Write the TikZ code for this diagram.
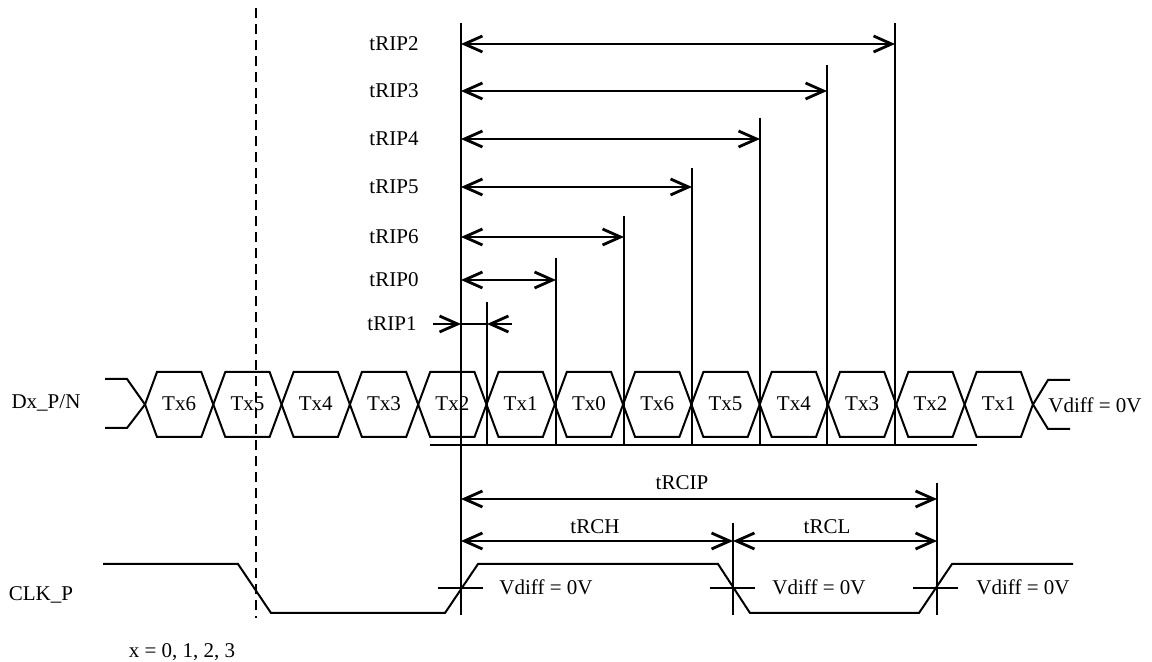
\documentclass[tikz,border=0pt]{standalone}
\usepackage{fontspec}
\setmainfont{Liberation Serif}
\usetikzlibrary{arrows.meta}
\tikzstyle{every node} = [font=\fontsize{10.5}{12}\selectfont, inner sep=0pt]
\tikzstyle{wave} = [line width=1pt]
\tikzstyle{guide} = [line width=0.8pt]
\tikzstyle{arrow} = [line width=1.4pt,<->,>={Straight Barb[length=9pt,width=8pt]}]

\begin{document}
\begin{tikzpicture}[x=0.5pt, y=-0.5pt]
\useasboundingbox (0,0) rectangle (1152,662);

% signal names
\node (dx) at (46,403) {Dx\_P/N};
\node (clk) at (41,595) {CLK\_P};
\node (lane) at (182,652) {x = 0, 1, 2, 3};

% data lane
\draw [wave] (105,379) -- (127,379) -- (145,404.5) -- (127,428) -- (105,428);
\foreach \lab [count=\i from 0] in {Tx6,Tx5,Tx4,Tx3,Tx2,Tx1,Tx0,Tx6,Tx5,Tx4,Tx3,Tx2,Tx1} {
  \draw [wave] ({145+68.3*\i},404.5) -- ({157+68.3*\i},372) -- ({133+68.3*(\i+1)},372) -- ({145+68.3*(\i+1)},404.5) -- ({133+68.3*(\i+1)},437) -- ({157+68.3*\i},437) -- cycle;
  \node (tx\i) at ({179.15+68.3*\i},404) {\lab};
}
\draw [wave] (1070,380) -- (1048,380) -- (1033,404.5) -- (1048,429) -- (1070,429);
\node (vd0) at (1095,405) {Vdiff = 0V};

% clock
\draw [wave] (103,564) -- (238,564) -- (271,613) -- (445,613) -- (478,564) -- (718,564) -- (750,613) -- (919,613) -- (952,564) -- (1073,564);
\draw [wave] (438,588) -- (483,588);
\draw [wave] (710,588) -- (755,588);
\draw [wave] (913,588) -- (958,588);
\node (vd1) at (546,587) {Vdiff = 0V};
\node (vd2) at (819,587) {Vdiff = 0V};
\node (vd3) at (1023,587) {Vdiff = 0V};

% sampling edge
\draw [line width=1pt, dash pattern=on 5pt off 3pt] (256,8) -- (256,618);

% reference edge and base line
\coordinate (ref) at (461,23);
\coordinate (refbot) at (461,615);
\draw [wave] (ref) -- (refbot);
\coordinate (busl) at (430,445);
\coordinate (busr) at (977,445);
\draw [wave] (busl) -- (busr);

% skew windows
\node (rip2) at (394,44) {tRIP2};
\coordinate (e2) at (895,23);
\draw [guide] (e2) -- (e2 |- busl);
\draw [arrow] (ref |- rip2) -- (e2 |- rip2);

\node (rip3) at (394,91) {tRIP3};
\coordinate (e3) at (827,65);
\draw [guide] (e3) -- (e3 |- busl);
\draw [arrow] (ref |- rip3) -- (e3 |- rip3);

\node (rip4) at (394,139) {tRIP4};
\coordinate (e4) at (760,118);
\draw [guide] (e4) -- (e4 |- busl);
\draw [arrow] (ref |- rip4) -- (e4 |- rip4);

\node (rip5) at (394,187) {tRIP5};
\coordinate (e5) at (692,168);
\draw [guide] (e5) -- (e5 |- busl);
\draw [arrow] (ref |- rip5) -- (e5 |- rip5);

\node (rip6) at (394,237) {tRIP6};
\coordinate (e6) at (624,216);
\draw [guide] (e6) -- (e6 |- busl);
\draw [arrow] (ref |- rip6) -- (e6 |- rip6);

\node (rip0) at (394,280) {tRIP0};
\coordinate (e0) at (556,258);
\draw [guide] (e0) -- (e0 |- busl);
\draw [arrow] (ref |- rip0) -- (e0 |- rip0);

\node (rip1) at (392,324) {tRIP1};
\coordinate (e1) at (487,302);
\coordinate (o1) at (433,324);
\coordinate (o2) at (512,324);
\draw [guide] (e1) -- (e1 |- busl);
\draw [guide] (ref |- rip1) -- (e1 |- rip1);
\draw [arrow,->] (o1) -- (ref |- o1);
\draw [arrow,->] (o2) -- (e1 |- o2);

% clock period
\coordinate (h) at (733,523);
\coordinate (p) at (937,483);
\draw [guide] (h) -- (h |- refbot);
\draw [guide] (p) -- (p |- refbot);
\coordinate (cip) at (461,499);
\coordinate (ch) at (461,541);
\draw [arrow] (cip) -- (cip -| p);
\draw [arrow] (ch) -- (ch -| h);
\draw [arrow] (ch -| h) -- (ch -| p);
\node (rcip) at (682,483) {tRCIP};
\node (rch) at (595,527) {tRCH};
\node (rcl) at (827,527) {tRCL};
\end{tikzpicture}
\end{document}
